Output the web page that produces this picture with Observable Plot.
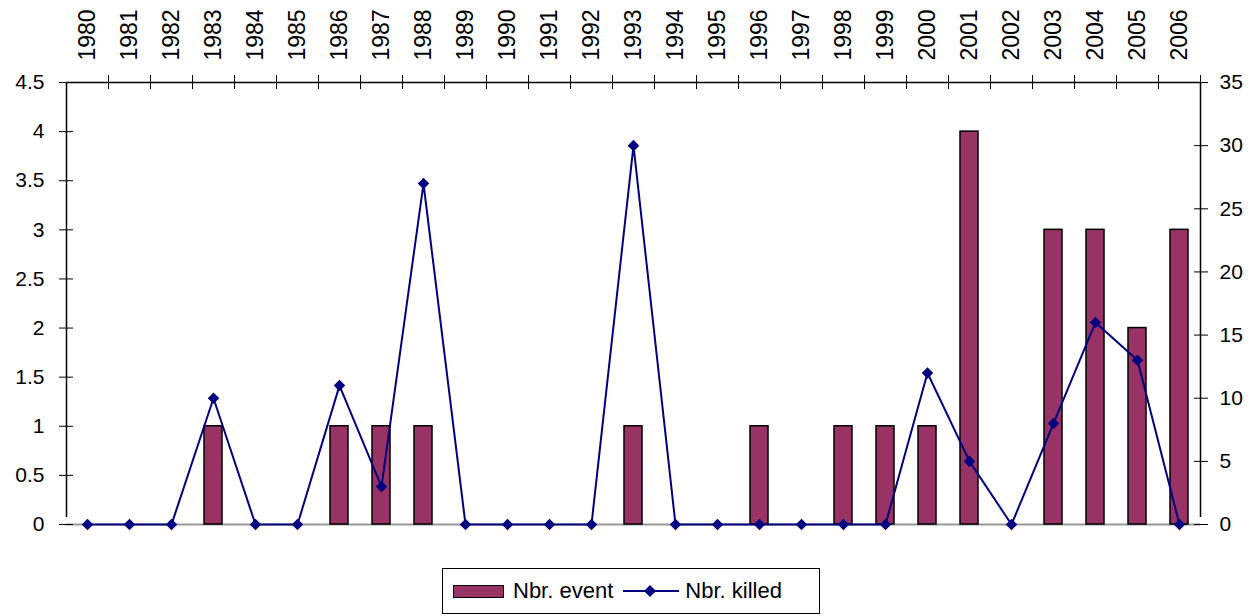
<!DOCTYPE html>
<html>
<head>
<meta charset="utf-8">
<script src="https://cdn.jsdelivr.net/npm/d3@7"></script>
<script src="https://cdn.jsdelivr.net/npm/@observablehq/plot@0.6"></script>
<style>
  html, body { margin: 0; padding: 0; background: #fff; }
  #wrap { position: relative; width: 1252px; height: 616px; font-family: "Liberation Sans", Arial, sans-serif; }
  #legend { position: absolute; left: 442px; top: 568px; width: 376px; height: 44px; border: 1px solid #000; background: #fff;
            display: flex; align-items: center; font-size: 22px; color: #000; }
  #legend .sw { width: 49px; height: 11px; background: #993366; border: 1.5px solid #000; margin-left: 10px; margin-right: 9px; }
  #legend svg { margin-left: 10px; margin-right: 6px; }
</style>
</head>
<body>
<div id="wrap">
  <div id="chart"></div>
  <div id="legend">
    <div class="sw"></div><span>Nbr. event</span>
    <svg width="56" height="16"><line x1="0" y1="8" x2="56" y2="8" stroke="#000080" stroke-width="2"/><path d="M27,2L33,8L27,14L21,8Z" fill="#000080"/></svg><span>Nbr. killed</span>
  </div>
</div>
<script>
const years = ["1980","1981","1982","1983","1984","1985","1986","1987","1988","1989","1990","1991","1992","1993","1994","1995","1996","1997","1998","1999","2000","2001","2002","2003","2004","2005","2006"];
const events = [0,0,0,1,0,0,1,1,1,0,0,0,0,1,0,0,1,0,1,1,1,4,0,3,3,2,3];
const killed = [0,0,0,10,0,0,11,3,27,0,0,0,0,30,0,0,0,0,0,0,12,5,0,8,16,13,0];
const leftTicks = [0,0.5,1,1.5,2,2.5,3,3.5,4,4.5];
const rightTicks = [0,5,10,15,20,25,30,35];
const leftMax = 4.5, rightMax = 35;
const ratio = leftMax / rightMax;

const data = years.map((y, i) => ({year: y, events: events[i], killed: killed[i]}));
const font = "Liberation Sans, Arial, sans-serif";

const chart = Plot.plot({
  width: 1252,
  height: 560,
  marginLeft: 66,
  marginRight: 52,
  marginTop: 82,
  marginBottom: 36,
  style: {fontFamily: font, fontSize: "21px", color: "#000", background: "#fff"},
  x: {type: "band", domain: years, padding: 0, axis: null},
  y: {domain: [0, leftMax], axis: null},
  marks: [
    Plot.ruleY([0], {stroke: "#999", strokeWidth: 2}),
    Plot.barY(data, {x: "year", y: "events", fill: "#993366", stroke: "#000", strokeWidth: 1.5, insetLeft: 12, insetRight: 12}),
    Plot.ruleY([leftMax], {stroke: "#000", strokeWidth: 1.5}),
    Plot.ruleX([years[0]], {y1: 0, y2: leftMax, dx: -21, stroke: "#000", strokeWidth: 1.5, insetTop: -7}),
    Plot.ruleX([years[years.length - 1]], {y1: 0, y2: leftMax, dx: 21, stroke: "#000", strokeWidth: 1.5, insetTop: -7}),
    Plot.ruleX(years, {y1: leftMax, y2: leftMax, dx: 21, stroke: "#000", strokeWidth: 1, insetTop: -7, insetBottom: -7}),
    Plot.axisX({anchor: "top", label: null, tickSize: 0, tickPadding: 22, tickRotate: -90, fontSize: 23}),
    Plot.axisY(leftTicks, {anchor: "left", label: null, tickSize: 7, tickPadding: 15, fontSize: 21, strokeWidth: 1, tickFormat: d => String(d)}),
    Plot.axisY(leftTicks, {anchor: "left", label: null, tickSize: -7, tickFormat: () => "", strokeWidth: 1}),
    Plot.axisY(rightTicks.map(v => v * ratio), {anchor: "right", label: null, tickSize: 7, tickPadding: 12, fontSize: 21, strokeWidth: 1, tickFormat: d => String(Math.round(d / ratio))}),
    Plot.axisY(rightTicks.map(v => v * ratio), {anchor: "right", label: null, tickSize: -7, tickFormat: () => "", strokeWidth: 1}),
    Plot.line(data, {x: "year", y: d => d.killed * ratio, stroke: "#000080", strokeWidth: 2}),
    Plot.dot(data, {x: "year", y: d => d.killed * ratio, symbol: "diamond2", r: 5.2, fill: "#000080", stroke: "none"})
  ]
});
document.getElementById("chart").appendChild(chart);
</script>
</body>
</html>
